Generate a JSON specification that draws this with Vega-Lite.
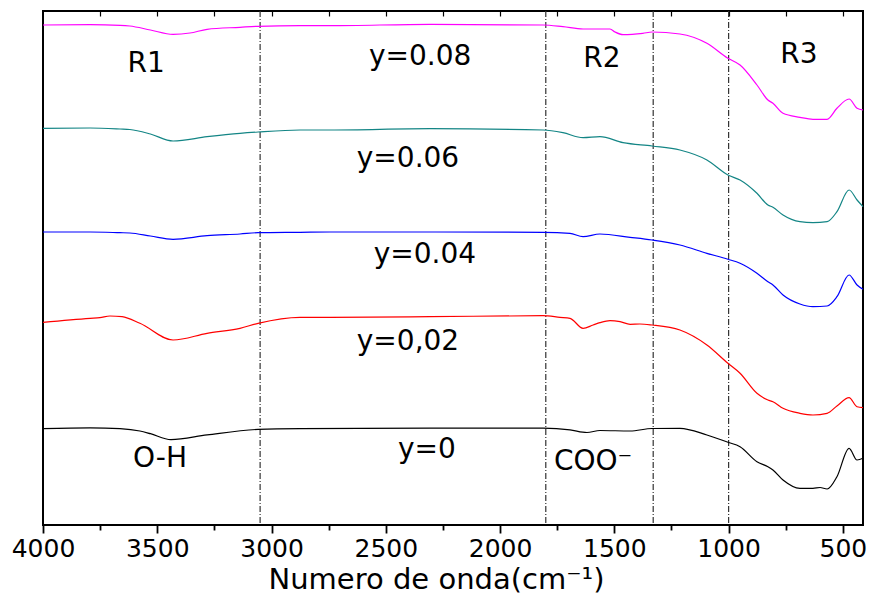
{
  "$schema": "https://vega.github.io/schema/vega-lite/v6.json",
  "width": 820,
  "height": 514,
  "autosize": {"type": "none"},
  "padding": {"left": 43, "top": 11, "right": 7, "bottom": 76},
  "background": "white",
  "config": {
    "view": {"stroke": "#000", "strokeWidth": 2},
    "axis": {"labelFont": "DejaVu Sans", "titleFont": "DejaVu Sans", "labelColor": "#000", "titleColor": "#000", "tickColor": "#000", "titleFontWeight": "normal", "grid": false, "domain": false}
  },
  "datasets": {
    "spectra": [
      {"s": "y=0.08", "wn": 4000, "T": 500}, {"s": "y=0.08", "wn": 3794, "T": 500.3}, {"s": "y=0.08", "wn": 3663, "T": 499.7}, {"s": "y=0.08", "wn": 3620, "T": 499}, {"s": "y=0.08", "wn": 3530, "T": 495}, {"s": "y=0.08", "wn": 3431, "T": 490.7}, {"s": "y=0.08", "wn": 3357, "T": 492}, {"s": "y=0.08", "wn": 3282, "T": 495.7}, {"s": "y=0.08", "wn": 3138, "T": 497.7}, {"s": "y=0.08", "wn": 3059, "T": 498.7}, {"s": "y=0.08", "wn": 2875, "T": 499.3}, {"s": "y=0.08", "wn": 2744, "T": 499.3}, {"s": "y=0.08", "wn": 2307, "T": 500.7}, {"s": "y=0.08", "wn": 1812, "T": 500}, {"s": "y=0.08", "wn": 1725, "T": 498.3}, {"s": "y=0.08", "wn": 1637, "T": 496}, {"s": "y=0.08", "wn": 1519, "T": 496}, {"s": "y=0.08", "wn": 1497, "T": 493}, {"s": "y=0.08", "wn": 1462, "T": 490.3}, {"s": "y=0.08", "wn": 1375, "T": 491.7}, {"s": "y=0.08", "wn": 1335, "T": 493}, {"s": "y=0.08", "wn": 1213, "T": 491}, {"s": "y=0.08", "wn": 1095, "T": 481.7}, {"s": "y=0.08", "wn": 1003, "T": 466.7}, {"s": "y=0.08", "wn": 950, "T": 460}, {"s": "y=0.08", "wn": 876, "T": 440}, {"s": "y=0.08", "wn": 828, "T": 425}, {"s": "y=0.08", "wn": 806, "T": 421.7}, {"s": "y=0.08", "wn": 762, "T": 411.7}, {"s": "y=0.08", "wn": 688, "T": 407.7}, {"s": "y=0.08", "wn": 631, "T": 405.7}, {"s": "y=0.08", "wn": 569, "T": 405.7}, {"s": "y=0.08", "wn": 526, "T": 416.7}, {"s": "y=0.08", "wn": 473, "T": 426}, {"s": "y=0.08", "wn": 438, "T": 416.7}, {"s": "y=0.08", "wn": 412, "T": 415},

      {"s": "y=0.06", "wn": 4000, "T": 396.7}, {"s": "y=0.06", "wn": 3794, "T": 397}, {"s": "y=0.06", "wn": 3663, "T": 396}, {"s": "y=0.06", "wn": 3620, "T": 395.5}, {"s": "y=0.06", "wn": 3530, "T": 391}, {"s": "y=0.06", "wn": 3431, "T": 384}, {"s": "y=0.06", "wn": 3282, "T": 388.3}, {"s": "y=0.06", "wn": 3138, "T": 391.7}, {"s": "y=0.06", "wn": 3059, "T": 393}, {"s": "y=0.06", "wn": 2875, "T": 395}, {"s": "y=0.06", "wn": 2744, "T": 395}, {"s": "y=0.06", "wn": 2307, "T": 396.3}, {"s": "y=0.06", "wn": 1812, "T": 395}, {"s": "y=0.06", "wn": 1725, "T": 392.3}, {"s": "y=0.06", "wn": 1637, "T": 387.3}, {"s": "y=0.06", "wn": 1563, "T": 388.3}, {"s": "y=0.06", "wn": 1462, "T": 382.3}, {"s": "y=0.06", "wn": 1335, "T": 379}, {"s": "y=0.06", "wn": 1213, "T": 375}, {"s": "y=0.06", "wn": 1095, "T": 365}, {"s": "y=0.06", "wn": 1003, "T": 350}, {"s": "y=0.06", "wn": 950, "T": 345}, {"s": "y=0.06", "wn": 876, "T": 331.7}, {"s": "y=0.06", "wn": 828, "T": 320}, {"s": "y=0.06", "wn": 806, "T": 317.7}, {"s": "y=0.06", "wn": 762, "T": 310}, {"s": "y=0.06", "wn": 688, "T": 303.3}, {"s": "y=0.06", "wn": 631, "T": 302.3}, {"s": "y=0.06", "wn": 569, "T": 303.3}, {"s": "y=0.06", "wn": 526, "T": 313.3}, {"s": "y=0.06", "wn": 473, "T": 335}, {"s": "y=0.06", "wn": 438, "T": 325}, {"s": "y=0.06", "wn": 412, "T": 318.3},

      {"s": "y=0.04", "wn": 4000, "T": 293}, {"s": "y=0.04", "wn": 3794, "T": 293}, {"s": "y=0.04", "wn": 3663, "T": 292.3}, {"s": "y=0.04", "wn": 3620, "T": 292}, {"s": "y=0.04", "wn": 3530, "T": 289}, {"s": "y=0.04", "wn": 3431, "T": 285.7}, {"s": "y=0.04", "wn": 3282, "T": 289.3}, {"s": "y=0.04", "wn": 3138, "T": 291}, {"s": "y=0.04", "wn": 3059, "T": 292.3}, {"s": "y=0.04", "wn": 2875, "T": 292.7}, {"s": "y=0.04", "wn": 2744, "T": 293}, {"s": "y=0.04", "wn": 2307, "T": 293}, {"s": "y=0.04", "wn": 1812, "T": 292.7}, {"s": "y=0.04", "wn": 1694, "T": 291.7}, {"s": "y=0.04", "wn": 1637, "T": 288.3}, {"s": "y=0.04", "wn": 1563, "T": 291}, {"s": "y=0.04", "wn": 1431, "T": 287.7}, {"s": "y=0.04", "wn": 1335, "T": 285}, {"s": "y=0.04", "wn": 1213, "T": 280}, {"s": "y=0.04", "wn": 1095, "T": 271.7}, {"s": "y=0.04", "wn": 1003, "T": 265.7}, {"s": "y=0.04", "wn": 950, "T": 261.7}, {"s": "y=0.04", "wn": 876, "T": 251.7}, {"s": "y=0.04", "wn": 828, "T": 243.3}, {"s": "y=0.04", "wn": 806, "T": 240}, {"s": "y=0.04", "wn": 762, "T": 230}, {"s": "y=0.04", "wn": 688, "T": 221}, {"s": "y=0.04", "wn": 631, "T": 218.3}, {"s": "y=0.04", "wn": 569, "T": 219}, {"s": "y=0.04", "wn": 526, "T": 228.3}, {"s": "y=0.04", "wn": 473, "T": 250}, {"s": "y=0.04", "wn": 438, "T": 240}, {"s": "y=0.04", "wn": 412, "T": 235.7},

      {"s": "y=0,02", "wn": 4000, "T": 202.7}, {"s": "y=0,02", "wn": 3794, "T": 206.7}, {"s": "y=0,02", "wn": 3751, "T": 207.3}, {"s": "y=0,02", "wn": 3707, "T": 209}, {"s": "y=0,02", "wn": 3654, "T": 208.3}, {"s": "y=0,02", "wn": 3576, "T": 201.7}, {"s": "y=0,02", "wn": 3431, "T": 185}, {"s": "y=0,02", "wn": 3282, "T": 191.7}, {"s": "y=0,02", "wn": 3138, "T": 196.7}, {"s": "y=0,02", "wn": 3059, "T": 201.7}, {"s": "y=0,02", "wn": 2875, "T": 207.7}, {"s": "y=0,02", "wn": 2744, "T": 207.7}, {"s": "y=0,02", "wn": 2307, "T": 208.3}, {"s": "y=0,02", "wn": 1812, "T": 209.3}, {"s": "y=0,02", "wn": 1738, "T": 207.7}, {"s": "y=0,02", "wn": 1694, "T": 206.7}, {"s": "y=0,02", "wn": 1637, "T": 196.7}, {"s": "y=0,02", "wn": 1593, "T": 200}, {"s": "y=0,02", "wn": 1563, "T": 202.3}, {"s": "y=0,02", "wn": 1519, "T": 204.3}, {"s": "y=0,02", "wn": 1475, "T": 203.3}, {"s": "y=0,02", "wn": 1431, "T": 200.7}, {"s": "y=0,02", "wn": 1388, "T": 201}, {"s": "y=0,02", "wn": 1335, "T": 200}, {"s": "y=0,02", "wn": 1213, "T": 195}, {"s": "y=0,02", "wn": 1095, "T": 180}, {"s": "y=0,02", "wn": 1003, "T": 161.7}, {"s": "y=0,02", "wn": 950, "T": 151.7}, {"s": "y=0,02", "wn": 876, "T": 131.7}, {"s": "y=0,02", "wn": 828, "T": 125}, {"s": "y=0,02", "wn": 806, "T": 123.3}, {"s": "y=0,02", "wn": 762, "T": 116.7}, {"s": "y=0,02", "wn": 688, "T": 111.7}, {"s": "y=0,02", "wn": 631, "T": 110}, {"s": "y=0,02", "wn": 569, "T": 111.7}, {"s": "y=0,02", "wn": 526, "T": 119}, {"s": "y=0,02", "wn": 473, "T": 127.3}, {"s": "y=0,02", "wn": 438, "T": 118.3}, {"s": "y=0,02", "wn": 412, "T": 117.3},

      {"s": "y=0", "wn": 4000, "T": 96.4}, {"s": "y=0", "wn": 3794, "T": 97.2}, {"s": "y=0", "wn": 3663, "T": 96.4}, {"s": "y=0", "wn": 3576, "T": 94}, {"s": "y=0", "wn": 3530, "T": 91.3}, {"s": "y=0", "wn": 3440, "T": 85.3}, {"s": "y=0", "wn": 3282, "T": 90.1}, {"s": "y=0", "wn": 3059, "T": 95.6}, {"s": "y=0", "wn": 2875, "T": 96.4}, {"s": "y=0", "wn": 2307, "T": 96.8}, {"s": "y=0", "wn": 1812, "T": 96.8}, {"s": "y=0", "wn": 1694, "T": 95.2}, {"s": "y=0", "wn": 1620, "T": 92.5}, {"s": "y=0", "wn": 1563, "T": 94.5}, {"s": "y=0", "wn": 1431, "T": 94}, {"s": "y=0", "wn": 1335, "T": 96.5}, {"s": "y=0", "wn": 1213, "T": 96.7}, {"s": "y=0", "wn": 1095, "T": 90}, {"s": "y=0", "wn": 1003, "T": 82.7}, {"s": "y=0", "wn": 950, "T": 78.3}, {"s": "y=0", "wn": 876, "T": 63.3}, {"s": "y=0", "wn": 828, "T": 58.3}, {"s": "y=0", "wn": 806, "T": 55}, {"s": "y=0", "wn": 762, "T": 45}, {"s": "y=0", "wn": 688, "T": 36.7}, {"s": "y=0", "wn": 631, "T": 36.7}, {"s": "y=0", "wn": 600, "T": 37.5}, {"s": "y=0", "wn": 569, "T": 36}, {"s": "y=0", "wn": 526, "T": 48.3}, {"s": "y=0", "wn": 473, "T": 76.7}, {"s": "y=0", "wn": 438, "T": 65}, {"s": "y=0", "wn": 412, "T": 66.7}
    ],
    "guides": [{"wn": 3050}, {"wn": 1800}, {"wn": 1330}, {"wn": 1000}],
    "labels": [
      {"txt": "R1", "wn": 3549, "T": 453},
      {"txt": "y=0.08", "wn": 2350, "T": 460},
      {"txt": "R2", "wn": 1554, "T": 458},
      {"txt": "R3", "wn": 692, "T": 462},
      {"txt": "y=0.06", "wn": 2403, "T": 358},
      {"txt": "y=0.04", "wn": 2329, "T": 262},
      {"txt": "y=0,02", "wn": 2403, "T": 175},
      {"txt": "O-H", "wn": 3488, "T": 58},
      {"txt": "y=0", "wn": 2320, "T": 67},
      {"txt": "COO⁻", "wn": 1593, "T": 55}
    ]
  },
  "resolve": {"axis": {"x": "independent"}},
  "layer": [
    {
      "data": {"name": "guides"},
      "mark": {"type": "rule", "color": "#333", "strokeWidth": 1.2, "strokeDash": [6, 2, 1, 2]},
      "encoding": {
        "x": {"field": "wn", "type": "quantitative", "scale": {"domain": [4000, 412], "nice": false, "zero": false},
          "axis": {"orient": "top", "values": [3750, 3500, 3250, 3000, 2750, 2500, 2250, 2000, 1750, 1500, 1250, 1000, 750, 500], "labels": false, "title": null, "tickSize": 5, "tickOffset": 0, "tickWidth": 1.2, "offset": -5}}
      }
    },
    {
      "data": {"name": "spectra"},
      "mark": {"type": "line", "strokeWidth": 1.2, "interpolate": "monotone"},
      "encoding": {
        "x": {"field": "wn", "type": "quantitative", "scale": {"domain": [4000, 412], "nice": false, "zero": false},
          "axis": {"orient": "bottom", "values": [4000, 3750, 3500, 3250, 3000, 2750, 2500, 2250, 2000, 1750, 1500, 1250, 1000, 750, 500], "format": "d",
            "labelExpr": "datum.value % 500 === 0 ? datum.label : ''",
            "labelFlush": false, "labelOverlap": false, "labelBound": false,
            "tickSize": {"condition": {"test": "datum.value % 500 === 0", "value": 8}, "value": 5},
            "tickWidth": 1.8, "labelFontSize": 25, "labelPadding": 3,
            "title": "Numero de onda(cm⁻¹)", "titleFontSize": 29, "titleX": 393, "titleY": 63, "titleBaseline": "alphabetic", "titleAnchor": "middle", "titleAlign": "center"}},
        "y": {"field": "T", "type": "quantitative", "scale": {"domain": [0, 514], "nice": false, "zero": false},
          "axis": {"labels": false, "ticks": false, "title": "% Transmitancia", "titleFont": "Liberation Sans", "titleFontSize": 28, "titleX": -18, "titleY": 244, "titleAngle": 270, "titleAlign": "center", "titleBaseline": "middle"}},
        "color": {"field": "s", "type": "nominal", "legend": null,
          "scale": {"domain": ["y=0", "y=0,02", "y=0.04", "y=0.06", "y=0.08"], "range": ["#000000", "#ff0000", "#0000ff", "#138585", "#ff00ff"]}},
        "detail": {"field": "s"}
      }
    },
    {
      "data": {"name": "labels"},
      "mark": {"type": "text", "font": "DejaVu Sans", "fontSize": 28, "align": "center", "baseline": "alphabetic", "color": "#000"},
      "encoding": {
        "x": {"field": "wn", "type": "quantitative", "axis": null},
        "y": {"field": "T", "type": "quantitative", "axis": null},
        "text": {"field": "txt"}
      }
    }
  ]
}
